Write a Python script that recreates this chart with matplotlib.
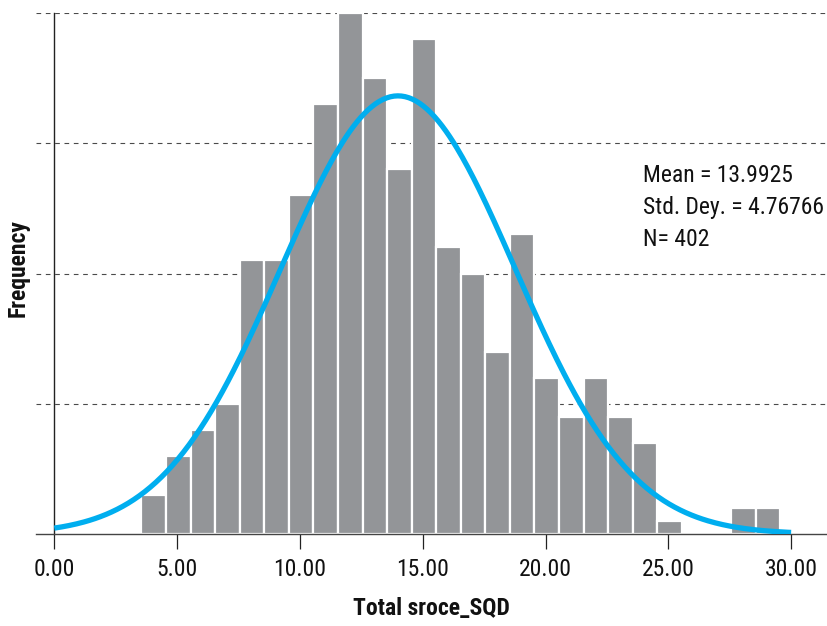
import numpy as np
import matplotlib
matplotlib.use("Agg")
import matplotlib.pyplot as plt
from matplotlib import font_manager

# ---- data ----
bin_start = 3.55
bin_width = 1.0
counts = [3, 6, 8, 10, 21, 21, 26, 33, 40, 35, 28, 38, 22, 20, 14, 23,
          12, 9, 12, 9, 7, 1, 0, 0, 2, 2]
mean_val = 13.9925
std_val = 4.76766
n_val = 402
xticks = [0, 5, 10, 15, 20, 25, 30]
xtick_labels = ["0.00", "5.00", "10.00", "15.00", "20.00", "25.00", "30.00"]
yticks = [10, 20, 30, 40]
stats_lines = ["Mean = 13.9925", "Std. Dey. = 4.76766", "N= 402"]

names = set(font_manager.get_font_names())
fam = None
for cand in ["Liberation Sans Narrow", "DejaVu Sans Condensed", "Roboto Condensed", "Open Sans Condensed", "Liberation Sans"]:
    if cand in names:
        fam = cand
        break
if fam is None:
    fam = "DejaVu Sans"
plt.rcParams['font.family'] = [fam, 'DejaVu Sans']

W, H = 828, 626
fig = plt.figure(figsize=(W / 100, H / 100), dpi=100)
ax_left, ax_right, ax_bot, ax_top = 36, 826, 534, 13
ax = fig.add_axes([ax_left / W, (H - ax_bot) / H, (ax_right - ax_left) / W, (ax_bot - ax_top) / H])

edges = bin_start + bin_width * np.arange(len(counts))
ax.bar(edges, counts, width=bin_width, align='edge', color='#939598',
       edgecolor='white', linewidth=1.6, zorder=2)

xs = np.linspace(0, 30, 400)
ys = n_val * bin_width * np.exp(-0.5 * ((xs - mean_val) / std_val) ** 2) / (std_val * np.sqrt(2 * np.pi))
ax.plot(xs, ys, color='#00AEEF', lw=3.8, zorder=3, solid_capstyle='butt')

ax.set_xlim(-0.745, 31.42)
ax.set_ylim(0, 40)

for yv in yticks:
    ax.axhline(yv, color='#4a4a4a', lw=0.8, ls=(0, (4.2, 4.2)), zorder=1)

for s in ['top', 'right']:
    ax.spines[s].set_visible(False)
ax.spines['left'].set_position(('data', 0))
ax.spines['left'].set_linewidth(1.0)
ax.spines['left'].set_color('#222222')
ax.spines['bottom'].set_linewidth(1.0)
ax.spines['bottom'].set_color('#444444')

ax.set_yticks([])
ax.set_xticks(xticks)
ax.set_xticklabels(xtick_labels)
ax.tick_params(axis='x', direction='out', length=11, width=0.9, color='#222222',
               pad=6, labelsize=17, labelcolor='#111111')

ax.set_xlabel("Total sroce_SQD", fontsize=17, fontweight='bold', labelpad=12, color='#111111')
fig.text(18 / W, (H - 268) / H, "Frequency", rotation=90, fontsize=17, fontweight='bold',
         ha='center', va='center', color='#111111')

baselines_px = [182, 214, 246]
for txt, bpx in zip(stats_lines, baselines_px):
    fig.text(643 / W, (H - bpx) / H, txt, fontsize=17, ha='left', va='baseline', color='#111111')

fig.savefig("out.png", dpi=100)
